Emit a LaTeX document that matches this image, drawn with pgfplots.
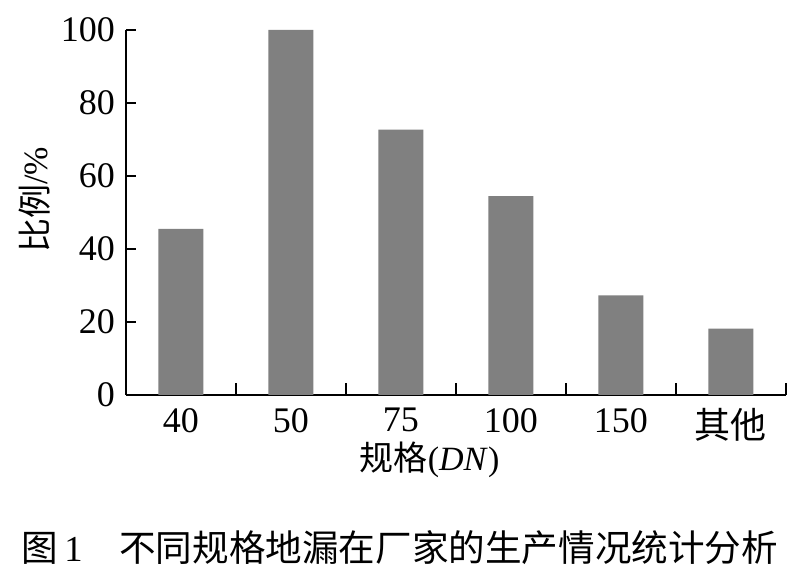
\documentclass[border=0pt]{standalone}
\usepackage{pgfplots}
\pgfplotsset{compat=1.18}
\usepackage{fontspec}
\setmainfont{Liberation Serif}
\newfontfamily\cjk{Noto Sans CJK SC}
\definecolor{bargray}{RGB}{128,128,128}
\begin{document}
\begin{tikzpicture}
  % page frame, 1 px of the reference = 0.5pt
  \path[use as bounding box] (-63pt,-93pt) rectangle (341pt,197.5pt);
  \begin{axis}[
      at={(0,0)}, anchor=south west,
      scale only axis,
      width=330pt, height=182.5pt,
      xmin=-0.5, xmax=5.5,
      ymin=0, ymax=100,
      axis x line*=bottom, axis y line*=left,
      axis line style={-, line width=1pt, black},
      clip=false,
      ybar, bar width=22.5pt,
      xtick={0,...,5},
      xticklabels={40,50,75,100,150,{\cjk 其他}},
      minor xtick={0.5,1.5,...,5.5},
      major x tick style={draw=none},
      minor x tick style={line width=1pt, black},
      minor tick length=6pt,
      ytick={0,20,...,100},
      major y tick style={line width=1pt, black},
      major tick length=5pt,
      tick align=inside,
      ticklabel style={font=\fontsize{18}{20}\selectfont},
      /pgf/number format/assume math mode=true,
      xticklabel style={yshift=-3pt},
      yticklabel style={xshift=-2pt},
      ylabel={{\cjk 比例}/\%},
      ylabel style={at={(axis description cs:-0.138,0.534)}, anchor=center,
        font=\fontsize{17}{20}\selectfont},
      xlabel={{\cjk 规格}(\textit{DN})},
      xlabel style={at={(axis description cs:0.46,-0.178)}, anchor=center,
        font=\fontsize{17}{20}\selectfont},
    ]
    \addplot[fill=bargray, draw=none] coordinates {
        (0,45.5) (1,100) (2,72.7) (3,54.5) (4,27.3) (5,18.2)
      };
    \node[font=\fontsize{18.3}{20}\selectfont, anchor=center]
      at (axis description cs:0.415,-0.419) {{\cjk 图}\,1\quad{\cjk 不同规格地漏在厂家的生产情况统计分析}};
  \end{axis}
\end{tikzpicture}
\end{document}
